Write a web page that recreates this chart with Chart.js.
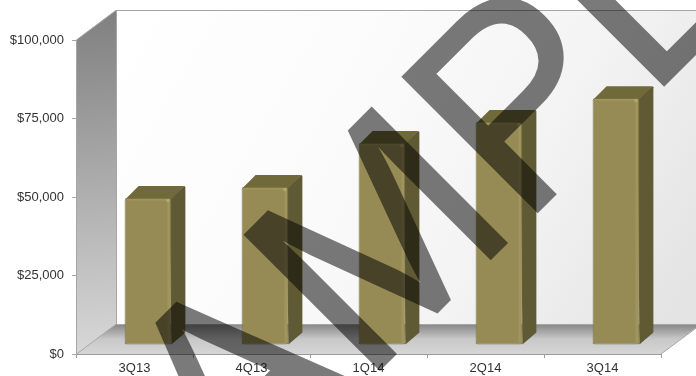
<!DOCTYPE html>
<html lang="en">
<head>
<meta charset="UTF-8">
<title>quarterly</title>
<style>
    html, body { margin: 0; padding: 0; background: #fff; overflow: hidden; }
    .chartbox { position: relative; width: 696px; height: 376px; }
    #mark { position: absolute; left: 0; top: 0; pointer-events: none; }
</style>
<script src="https://cdn.jsdelivr.net/npm/chart.js@4"></script>
</head>
<body>
<div class="chartbox">
    <canvas id="myChart" width="696" height="376"></canvas>
    <svg id="mark" width="696" height="376">
        <text transform="translate(111.5 638) rotate(-45) scale(1 1.035)" font-family="Liberation Sans" font-size="268"
              fill="#000" stroke="#000" stroke-width="2" opacity="0.52">SAMPLE</text>
    </svg>
</div>
<script>
const categories = ['3Q13', '4Q13', '1Q14', '2Q14', '3Q14'];
const revenue = [46800, 50300, 64300, 71000, 78600];
const yTicks = [0, 25000, 50000, 75000, 100000];

const depthX = 40, depthY = 30;   // wall / floor depth
const barDX = 13.5, barDY = 9;    // bar sits in the middle of the floor
const barDepthX = 14, barDepthY = 12;

function poly(ctx, pts, fill) {
    ctx.beginPath();
    pts.forEach((p, i) => i ? ctx.lineTo(p[0], p[1]) : ctx.moveTo(p[0], p[1]));
    ctx.closePath();
    ctx.fillStyle = fill;
    ctx.fill();
}

// back wall, side wall and floor
const room = {
    id: 'room',
    beforeDatasetsDraw(chart) {
        const { ctx, chartArea: a } = chart;
        const L = a.left, R = a.right, T = a.top, B = a.bottom;
        ctx.save();
        let g = ctx.createLinearGradient(L + depthX, T - depthY, R, B - depthY);
        g.addColorStop(0, '#ffffff');
        g.addColorStop(0.4, '#fbfbfb');
        g.addColorStop(0.7, '#f3f3f3');
        g.addColorStop(1, '#e4e4e4');
        poly(ctx, [[L + depthX, T - depthY], [R + depthX, T - depthY], [R + depthX, B - depthY], [L + depthX, B - depthY]], g);

        g = ctx.createLinearGradient(L, T - depthY, L + depthX / 2, B);
        g.addColorStop(0, '#7f7f7f');
        g.addColorStop(1, '#d8d8d8');
        poly(ctx, [[L, T], [L + depthX, T - depthY], [L + depthX, B - depthY], [L, B]], g);

        g = ctx.createLinearGradient(0, B - depthY, 0, B);
        g.addColorStop(0, '#858585');
        g.addColorStop(0.5, '#c8c8c8');
        g.addColorStop(1, '#d6d6d6');
        poly(ctx, [[L, B], [L + depthX, B - depthY], [R + depthX, B - depthY], [R, B]], g);

        ctx.strokeStyle = '#a6a6a6';
        ctx.lineWidth = 1;
        ctx.beginPath();
        ctx.moveTo(L + 0.5, B);
        ctx.lineTo(L + 0.5, T);
        ctx.lineTo(L + depthX, T - depthY + 0.5);
        ctx.lineTo(R + depthX, T - depthY + 0.5);
        ctx.moveTo(L + depthX + 0.5, T - depthY);
        ctx.lineTo(L + depthX + 0.5, B - depthY);
        ctx.lineTo(L + 0.5, B);
        ctx.moveTo(L + depthX, B - depthY + 0.5);
        ctx.lineTo(R + depthX, B - depthY + 0.5);
        ctx.lineTo(R, B);
        ctx.stroke();
        ctx.restore();
    },
    // side and top of each bar, then push the front face back onto the floor
    beforeDatasetDraw(chart, args) {
        const { ctx } = chart;
        const meta = chart.getDatasetMeta(args.index);
        ctx.save();
        ctx.translate(barDX, -barDY);
        meta.data.forEach(bar => {
            const l = bar.x - bar.width / 2, r = bar.x + bar.width / 2;
            poly(ctx, [[r - 2, bar.y + 1], [r + barDepthX - 1, bar.y - barDepthY], [r + barDepthX, bar.y - barDepthY + 1], [r + barDepthX, bar.base - barDepthY], [r, bar.base]], '#605a34');
            poly(ctx, [[l + 1, bar.y + 1], [l + barDepthX, bar.y - barDepthY], [r + barDepthX - 1, bar.y - barDepthY], [r, bar.y + 1]], '#706939');
        });
    },
    afterDatasetDraw(chart, args) {
        const { ctx } = chart;
        const meta = chart.getDatasetMeta(args.index);
        // bevel highlights on the front face
        meta.data.forEach(bar => {
            const l = bar.x - bar.width / 2, r = bar.x + bar.width / 2;
            ctx.fillStyle = '#a0955c';
            ctx.fillRect(r - 4, bar.y + 1, 2.5, bar.base - bar.y - 2);
            ctx.fillRect(l + 2, bar.y + 1, bar.width - 4, 1.5);
            ctx.fillStyle = '#b3a96c';
            ctx.fillRect(r - 5, bar.y + 1, 3, 3);
        });
        ctx.restore();
    }
};

new Chart(document.getElementById('myChart'), {
    type: 'bar',
    data: {
        labels: categories,
        datasets: [{
            data: revenue,
            backgroundColor: '#968a55',
            borderColor: '#7f7545',
            borderWidth: 1,
            borderRadius: 2,
            borderSkipped: false,
            categoryPercentage: 1,
            barPercentage: 0.4
        }]
    },
    plugins: [room],
    options: {
        responsive: false,
        animation: false,
        layout: { padding: { left: 0, right: 35, top: 40, bottom: 0 } },
        plugins: { legend: { display: false }, tooltip: { enabled: false } },
        scales: {
            x: {
                afterFit: s => { s.height = 22; },
                grid: { display: true, drawOnChartArea: false, color: '#9a9a9a', tickLength: 4 },
                border: { color: '#9a9a9a' },
                ticks: { color: '#333', font: { family: 'Liberation Sans', size: 13 }, padding: 3, maxRotation: 0 }
            },
            y: {
                min: 0,
                max: 100000,
                afterBuildTicks: s => { s.ticks = yTicks.map(v => ({ value: v })); },
                afterFit: s => { s.width = 76; },
                grid: { display: true, drawOnChartArea: false, color: '#a6a6a6', tickLength: 4 },
                border: { color: '#a6a6a6' },
                ticks: {
                    color: '#333',
                    font: { family: 'Liberation Sans', size: 13 },
                    padding: 8,
                    callback: v => '$' + v.toLocaleString('en-US')
                }
            }
        }
    }
});
</script>
</body>
</html>
